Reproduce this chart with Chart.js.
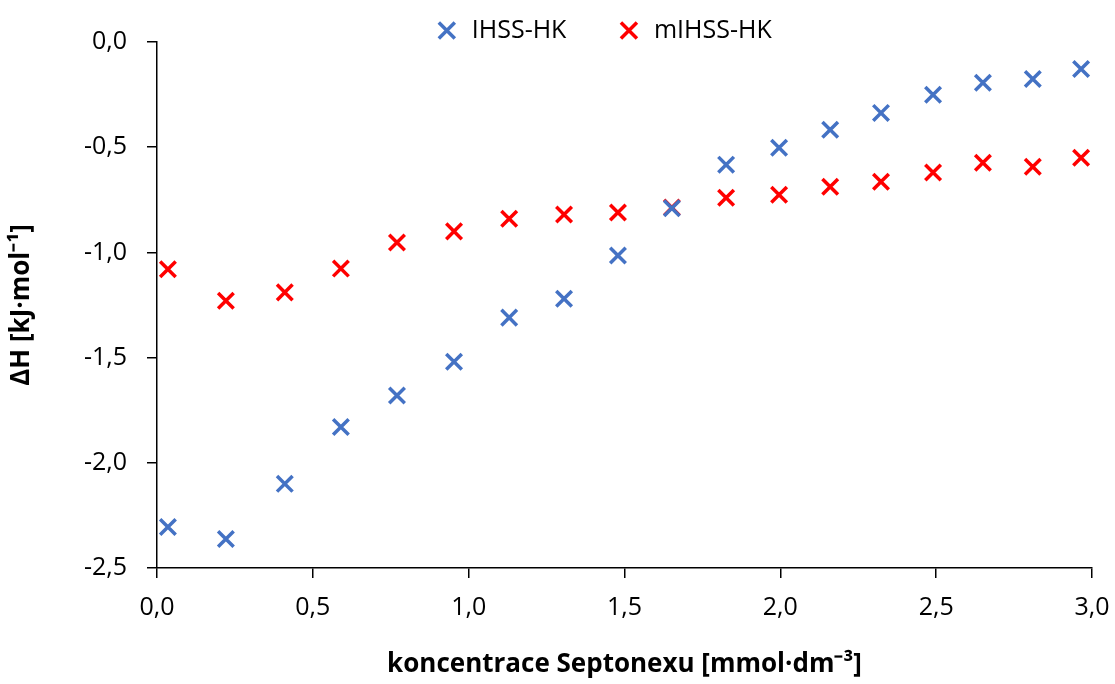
<!DOCTYPE html>
<html lang="cs">
<head>
<meta charset="UTF-8" />
<title>ΔH vs koncentrace Septonexu</title>
<style>
  html, body { margin: 0; padding: 0; background: #fff; }
  #wrap { width: 1115px; height: 684px; }
</style>
</head>
<body>
<div id="wrap"><canvas id="chart" width="1115" height="684"></canvas></div>
<script src="https://cdn.jsdelivr.net/npm/chart.js"></script>
<script>
const conc = [0.035, 0.221, 0.41, 0.59, 0.77, 0.953, 1.13, 1.306, 1.479, 1.652, 1.826, 1.996, 2.16, 2.323, 2.49, 2.65, 2.81, 2.965];
const ihss = [-2.305, -2.362, -2.10, -1.83, -1.68, -1.52, -1.31, -1.22, -1.015, -0.79, -0.583, -0.503, -0.417, -0.337, -0.251, -0.194, -0.176, -0.128];
const mihss = [-1.08, -1.23, -1.19, -1.077, -0.953, -0.90, -0.84, -0.82, -0.81, -0.787, -0.74, -0.726, -0.688, -0.664, -0.62, -0.574, -0.593, -0.55];
const seriesNames = ['IHSS-HK', 'mIHSS-HK'];
const xTitle = 'koncentrace Septonexu [mmol·dm⁻³]';
const yTitle = 'ΔH [kJ·mol⁻¹]';

const toPoints = ys => ys.map((y, i) => ({ x: conc[i], y }));
const fmt = v => Number(v).toFixed(1).replace('.', ',');
const font = 'Open Sans';

const marker = color => ({
  borderColor: color,
  backgroundColor: color,
  borderWidth: 3.5,
  pointStyle: 'crossRot',
  pointRadius: 11,
  pointHoverRadius: 11,
  pointBorderWidth: 3.5,
  showLine: false
});

// legend sits above the plot without pushing it down, shifted a bit right like the original
const legendFix = {
  id: 'legendFix',
  beforeInit(chart) {
    const lg = chart.legend;
    if (!lg) return;
    const fit = lg.fit.bind(lg);
    lg.fit = function () { fit(); this.height = 74; };
  },
  afterLayout(chart) {
    const lg = chart.legend;
    if (!lg) return;
    lg.left += 54;
    lg.right += 54;
  }
};

new Chart(document.getElementById('chart').getContext('2d'), {
  type: 'scatter',
  data: {
    datasets: [
      { label: seriesNames[0], data: toPoints(ihss), ...marker('#4472c4') },
      { label: seriesNames[1], data: toPoints(mihss), ...marker('#ff0000') }
    ]
  },
  plugins: [legendFix],
  options: {
    responsive: false,
    animation: false,
    devicePixelRatio: 1,
    layout: { padding: { top: -32, right: 23, bottom: 4, left: 6 } },
    plugins: {
      tooltip: { enabled: false },
      legend: {
        position: 'top',
        labels: {
          usePointStyle: true,
          boxHeight: 16,
          padding: 50,
          color: '#000',
          font: { family: font, size: 25 }
        }
      }
    },
    scales: {
      x: {
        type: 'linear',
        min: 0,
        max: 3,
        ticks: { stepSize: 0.5, callback: fmt, color: '#000', padding: 15, font: { family: font, size: 25 } },
        grid: { drawOnChartArea: false, drawTicks: true, tickLength: 10, color: '#000', lineWidth: 1.5 },
        border: { color: '#000', width: 1.5 },
        title: { display: true, text: xTitle, color: '#000', padding: { top: 13, bottom: 0 }, font: { family: font, size: 26, weight: 'bold' } },
        afterFit: s => { s.height = 112; s.paddingRight = 0; }
      },
      y: {
        type: 'linear',
        min: -2.5,
        max: 0,
        ticks: { stepSize: 0.5, callback: fmt, color: '#000', padding: 20, font: { family: font, size: 25 } },
        grid: { drawOnChartArea: false, drawTicks: true, tickLength: 10, color: '#000', lineWidth: 1.5 },
        border: { color: '#000', width: 1.5 },
        title: { display: true, text: yTitle, color: '#000', padding: { top: 0, bottom: 8 }, font: { family: font, size: 26, weight: 'bold' } },
        afterFit: s => { s.width = 151; }
      }
    }
  }
});
</script>
</body>
</html>
